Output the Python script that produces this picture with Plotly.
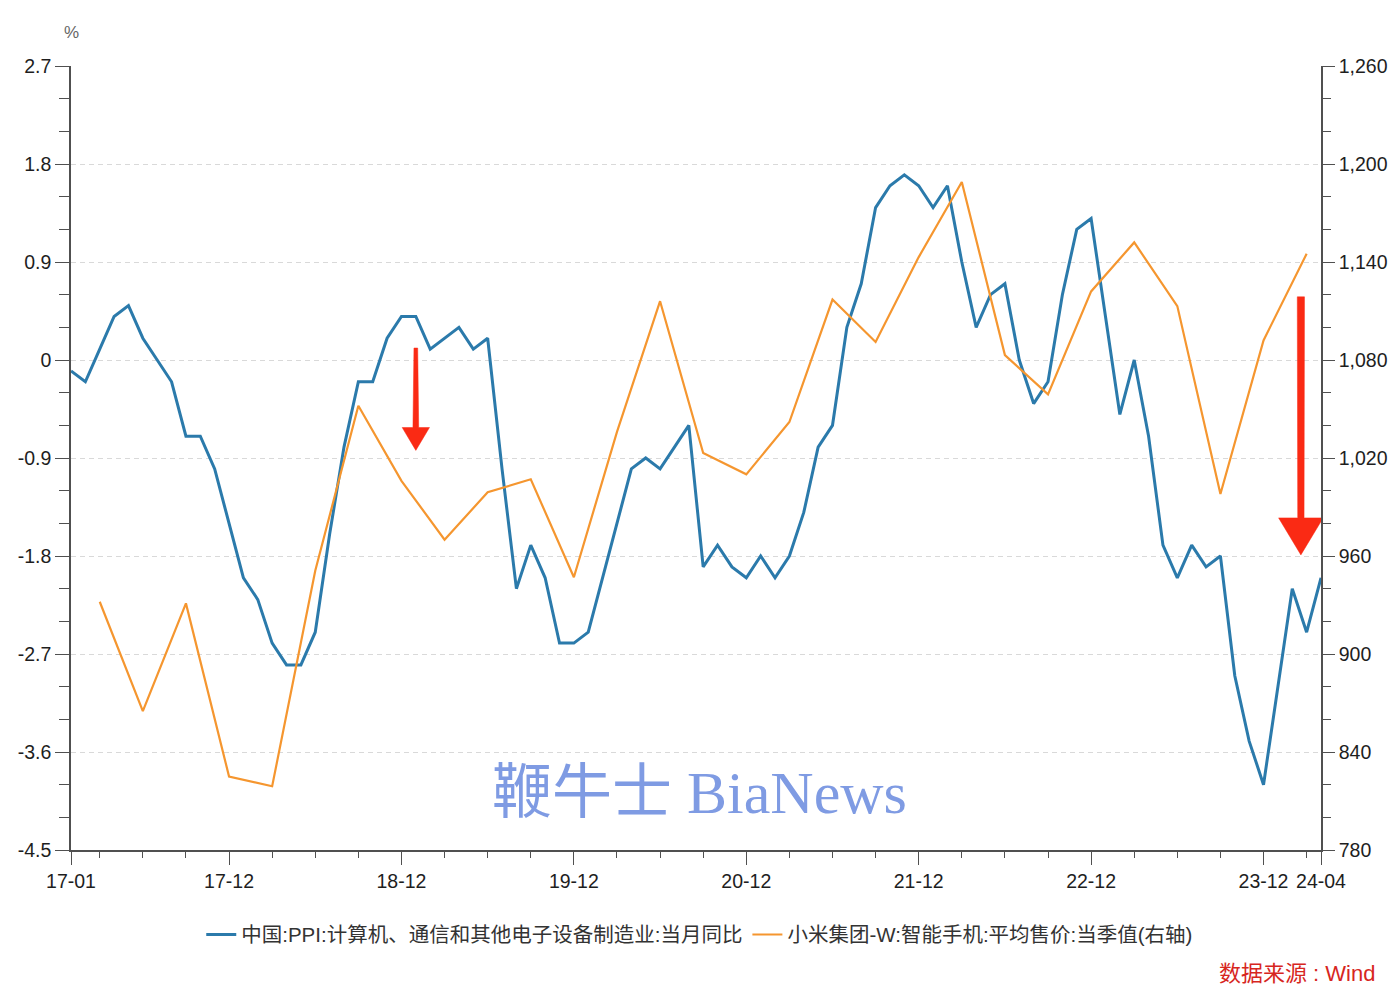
import plotly.graph_objects as go

# ---- categories ----
months = [f"{y % 100:02d}-{m:02d}" for y in range(2017, 2025) for m in range(1, 13)][:88]
asp_quarters = [f"{y % 100:02d}-{m:02d}" for y in range(2017, 2025) for m in (3, 6, 9, 12)][:29]

# ---- series values ----
ppi = [
    -0.1, -0.2, 0.1, 0.4, 0.5, 0.2, 0.0, -0.2, -0.7, -0.7, -1.0, -1.5,   # 2017
    -2.0, -2.2, -2.6, -2.8, -2.8, -2.5, -1.6, -0.8, -0.2, -0.2, 0.2, 0.4,  # 2018
    0.4, 0.1, 0.2, 0.3, 0.1, 0.2, -1.0, -2.1, -1.7, -2.0, -2.6, -2.6,      # 2019
    -2.5, -2.0, -1.5, -1.0, -0.9, -1.0, -0.8, -0.6, -1.9, -1.7, -1.9, -2.0,  # 2020
    -1.8, -2.0, -1.8, -1.4, -0.8, -0.6, 0.3, 0.7, 1.4, 1.6, 1.7, 1.6,      # 2021
    1.4, 1.6, 0.9, 0.3, 0.6, 0.7, 0.0, -0.4, -0.2, 0.6, 1.2, 1.3,          # 2022
    0.4, -0.5, 0.0, -0.7, -1.7, -2.0, -1.7, -1.9, -1.8, -2.9, -3.5, -3.9,  # 2023
    -3.0, -2.1, -2.5, -2.0,                                                # 2024
]
asp = [
    932, 865, 931, 825,
    819, 951, 1052, 1006,
    970, 999, 1007, 947,
    1036, 1116, 1023, 1010,
    1042, 1117, 1091, 1143,
    1189, 1083, 1059, 1122,
    1152, 1113, 998, 1092,
    1145,
]

# ---- tick labels ----
x_tick_labels = ["17-01", "17-12", "18-12", "19-12", "20-12", "21-12", "22-12", "23-12", "24-04"]
left_ticks = [2.7, 1.8, 0.9, 0, -0.9, -1.8, -2.7, -3.6, -4.5]
left_labels = ["2.7", "1.8", "0.9", "0", "-0.9", "-1.8", "-2.7", "-3.6", "-4.5"]
right_ticks = [1260, 1200, 1140, 1080, 1020, 960, 900, 840, 780]
right_labels = ["1,260", "1,200", "1,140", "1,080", "1,020", "960", "900", "840", "780"]

name_ppi = "中国:PPI:计算机、通信和其他电子设备制造业:当月同比"
name_asp = "小米集团-W:智能手机:平均售价:当季值(右轴)"

x_ppi = list(range(len(months)))
x_asp = [months.index(q) for q in asp_quarters]
x_tickvals = [months.index(t) for t in x_tick_labels]
x_minor = [i for i, m in enumerate(months) if m[-2:] in ("03", "06", "09", "12")]
left_minor = [round(-4.5 + 0.3 * i, 2) for i in range(25)]
right_minor = [780 + 20 * i for i in range(25)]

BLUE = "#2B7AAB"
ORANGE = "#F5962F"
AX = "#505050"
FONT = "Liberation Sans, Arial, Noto Sans CJK SC, sans-serif"

fig = go.Figure()
fig.add_trace(go.Scatter(x=x_ppi, y=ppi, mode="lines", name=name_ppi,
                         line=dict(color=BLUE, width=3)))
fig.add_trace(go.Scatter(x=x_asp, y=asp, mode="lines", name=name_asp, yaxis="y2",
                         line=dict(color=ORANGE, width=2.2)))

axis_common = dict(showline=True, linecolor=AX, linewidth=1.6, ticks="outside",
                   tickcolor=AX, tickwidth=1.4, zeroline=False,
                   tickfont=dict(size=19.5, color="#1e1e1e", family=FONT))

fig.update_layout(
    width=1399, height=991,
    margin=dict(l=71, r=78, t=66, b=141),
    paper_bgcolor="white", plot_bgcolor="white",
    font=dict(family=FONT),
    showlegend=True,
    legend=dict(orientation="h", x=0.503, xanchor="center", y=-0.108, yanchor="middle",
                font=dict(size=20.5, color="#333333", family=FONT),
                itemwidth=30, tracegroupgap=0),
    xaxis=dict(range=[0, len(months) - 1], tickmode="array", tickvals=x_tickvals,
               ticktext=x_tick_labels, ticklen=13, showgrid=False,
               minor=dict(tickmode="array", tickvals=x_minor, ticklen=6,
                          tickcolor=AX, tickwidth=1.4, ticks="outside"),
               **axis_common),
    yaxis=dict(range=[-4.5, 2.7], tickmode="array", tickvals=left_ticks, ticktext=left_labels,
               ticklen=14, showgrid=True, gridcolor="#d9d9d9", gridwidth=1,
               griddash="5px,4px",
               minor=dict(tickmode="array", tickvals=left_minor, ticklen=10,
                          tickcolor=AX, tickwidth=1.4, ticks="outside", showgrid=False),
               **axis_common),
    yaxis2=dict(range=[780, 1260], overlaying="y", side="right", tickmode="array",
                tickvals=right_ticks, ticktext=right_labels, ticklen=12, showgrid=False,
                minor=dict(tickmode="array", tickvals=right_minor, ticklen=8,
                           tickcolor=AX, tickwidth=1.4, ticks="outside", showgrid=False),
                **axis_common),
)

# red arrows (decorative annotations, in data units of x / left y)
RED = "#FA2A14"
def arrow_path(xc, y_top, y_head, y_tip, shaft_hw_top, shaft_hw_bot, head_hw):
    return (f"M {xc - shaft_hw_top} {y_top} L {xc + shaft_hw_top} {y_top} "
            f"L {xc + shaft_hw_bot} {y_head} L {xc + head_hw} {y_head} "
            f"L {xc} {y_tip} L {xc - head_hw} {y_head} L {xc - shaft_hw_bot} {y_head} Z")

fig.add_shape(type="path", xref="x", yref="y", layer="above",
              path=arrow_path(24.0, 0.11, -0.62, -0.83, 0.13, 0.2, 0.95),
              fillcolor=RED, line=dict(color=RED, width=0.5))
fig.add_shape(type="path", xref="x", yref="y", layer="above",
              path=arrow_path(85.6, 0.58, -1.45, -1.79, 0.25, 0.22, 1.55),
              fillcolor=RED, line=dict(color=RED, width=0.5))

fig.add_annotation(text="%", xref="paper", yref="paper", x=0.0, y=1.043,
                   showarrow=False, xanchor="center", yanchor="middle",
                   font=dict(size=17, color="#666666", family=FONT))
fig.add_annotation(text="鞭牛士 BiaNews", xref="paper", yref="paper", x=0.503, y=0.0727,
                   showarrow=False, xanchor="center", yanchor="middle",
                   font=dict(size=60, color="#7F9BE3",
                             family="Liberation Serif, DejaVu Serif, Noto Sans CJK SC, serif"))
fig.add_annotation(text="数据来源 : Wind", xref="paper", yref="paper", x=1.045, y=-0.158,
                   showarrow=False, xanchor="right", yanchor="middle",
                   font=dict(size=22, color="#D7261E", family=FONT))

fig.write_html("out.html", config={"displayModeBar": False},
               post_script="document.body.style.margin='0';")
